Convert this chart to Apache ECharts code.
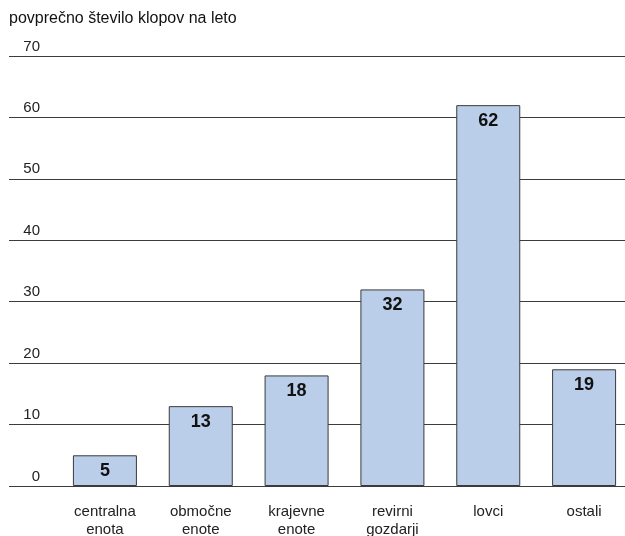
<!DOCTYPE html>
<html>
<head>
<meta charset="utf-8">
<script src="https://cdn.jsdelivr.net/npm/echarts@6/dist/echarts.min.js"></script>
<style>
  html, body { margin: 0; padding: 0; background: #fff; }
  #chart { width: 625px; height: 536px; }
</style>
</head>
<body>
<div id="chart"></div>
<script>
// Average number of ticks per year, by group
const categories = ['centralna\nenota', 'območne\nenote', 'krajevne\nenote', 'revirni\ngozdarji', 'lovci', 'ostali'];
const values = [5, 13, 18, 32, 62, 19];
const yTicks = [0, 10, 20, 30, 40, 50, 60, 70];

const FONT = '"Liberation Sans", Arial, Helvetica, sans-serif';
const chart = echarts.init(document.getElementById('chart'));

chart.setOption({
  animation: false,
  backgroundColor: '#fff',
  title: {
    text: 'povprečno število klopov na leto',
    left: 4,
    top: 6,
    textStyle: { fontFamily: FONT, fontSize: 16, fontWeight: 'normal', color: '#111' }
  },
  grid: [
    // bars
    { left: 57, width: 575, top: 56, bottom: 50, outerBoundsMode: 'none', containLabel: false },
    // horizontal reference lines spanning the full width
    { left: 9, right: 0, top: 56, bottom: 50, outerBoundsMode: 'none', containLabel: false }
  ],
  xAxis: [
    {
      type: 'category',
      gridIndex: 0,
      data: categories,
      axisLine: { show: false },
      axisTick: { show: false },
      axisLabel: {
        margin: 17,
        fontFamily: FONT,
        fontSize: 15,
        lineHeight: 18,
        color: '#222'
      }
    },
    {
      type: 'value',
      gridIndex: 1,
      show: false,
      min: 0,
      max: 1
    }
  ],
  yAxis: [
    {
      type: 'value',
      gridIndex: 0,
      min: yTicks[0],
      max: yTicks[yTicks.length - 1],
      interval: 10,
      show: false
    },
    {
      type: 'value',
      gridIndex: 1,
      min: yTicks[0],
      max: yTicks[yTicks.length - 1],
      interval: 10,
      axisLine: { show: false },
      axisTick: { show: false },
      splitLine: { show: true, lineStyle: { color: '#3c3c3c', width: 1 } },
      axisLabel: {
        inside: true,
        align: 'right',
        verticalAlign: 'bottom',
        margin: 31,
        padding: [0, 0, 2, 0],
        fontFamily: FONT,
        fontSize: 15,
        color: '#222',
        formatter: (v) => (yTicks.includes(v) ? String(v) : '')
      }
    }
  ],
  series: [
    {
      type: 'bar',
      xAxisIndex: 0,
      yAxisIndex: 0,
      data: values,
      barWidth: 64,
      itemStyle: { color: '#bacde9', borderColor: '#3a3a3a', borderWidth: 1 },
      label: {
        show: true,
        position: 'insideTop',
        distance: 7,
        fontFamily: FONT,
        fontSize: 18,
        fontWeight: 'bold',
        color: '#111'
      },
      z: 3
    }
  ]
});
</script>
</body>
</html>
